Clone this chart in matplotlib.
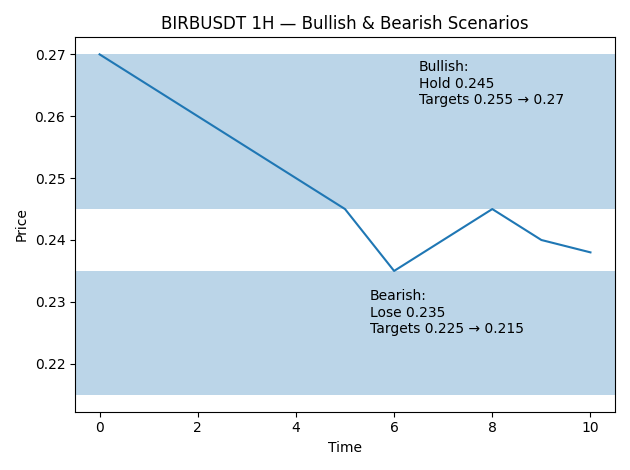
import matplotlib
matplotlib.use("Agg")
import matplotlib.pyplot as plt

# price path
time = [0, 1, 2, 3, 4, 5, 6, 7, 8, 9, 10]
price = [0.27, 0.265, 0.26, 0.255, 0.25, 0.245, 0.235, 0.24, 0.245, 0.24, 0.238]

# scenario zones
bull_zone = (0.245, 0.27)
bear_zone = (0.215, 0.235)
bull_text = "Bullish:\nHold 0.245\nTargets 0.255 → 0.27"
bear_text = "Bearish:\nLose 0.235\nTargets 0.225 → 0.215"

fig, ax = plt.subplots(figsize=(6.3, 4.7), dpi=100)
ax.plot(time, price)
ax.axhspan(*bull_zone, alpha=0.3)
ax.axhspan(*bear_zone, alpha=0.3)
ax.text(6.5, 0.262, bull_text)
ax.text(5.5, 0.225, bear_text)
ax.set_title("BIRBUSDT 1H — Bullish & Bearish Scenarios")
ax.set_xlabel("Time")
ax.set_ylabel("Price")
plt.tight_layout()
plt.savefig("out.png")
